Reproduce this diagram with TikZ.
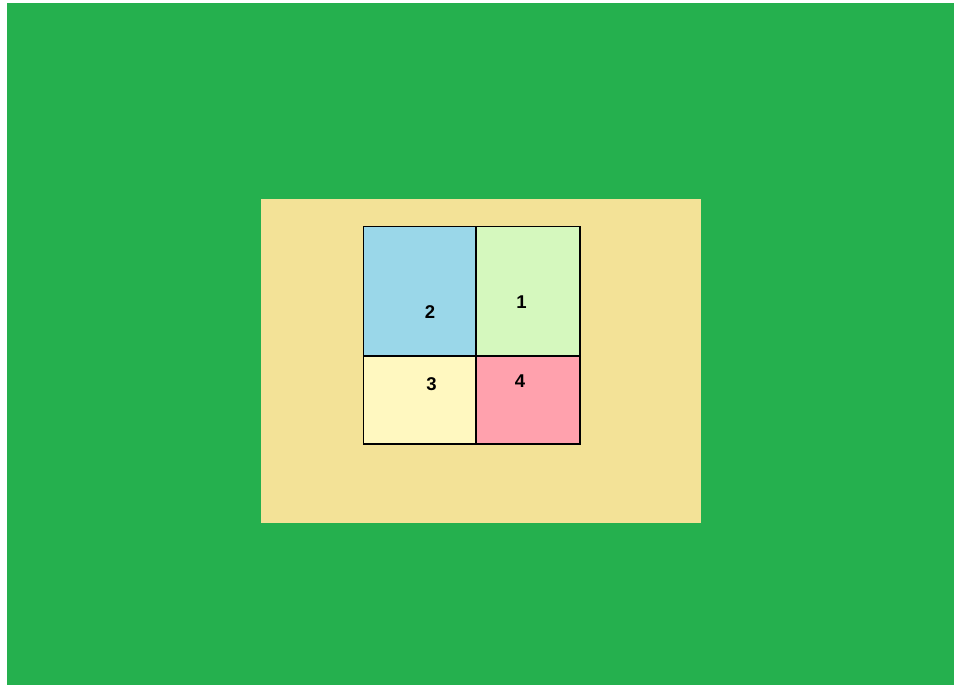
\documentclass[tikz,border=0pt]{standalone}
\usepackage{fontspec}
\setmainfont{Liberation Sans}
\definecolor{grass}{HTML}{25B04E}
\definecolor{tan}{HTML}{F3E297}
\definecolor{cblue}{HTML}{9AD7E9}
\definecolor{cgreen}{HTML}{D5F8BE}
\definecolor{cyellow}{HTML}{FFF8C0}
\definecolor{cred}{HTML}{FFA1AD}
\tikzset{
  cell/.style={draw=black, line width=1.8pt},
  num/.style={font=\fontsize{18.5}{18.5}\selectfont\bfseries, text=black, inner sep=0pt}
}
\begin{document}
\begin{tikzpicture}[x=1pt,y=-1pt]
\useasboundingbox (0,0) rectangle (954,685);
\fill[white] (0,0) rectangle (954,685);
\fill[grass] (7,3) rectangle (954,685);
\fill[tan] (261,199) rectangle (701,523);
\filldraw[cell, fill=cblue] (363.5,226.5) rectangle (475.7,356.3);
\filldraw[cell, fill=cgreen] (475.7,226.5) rectangle (579.7,356.3);
\filldraw[cell, fill=cyellow] (363.5,356.3) rectangle (475.7,444.3);
\filldraw[cell, fill=cred] (475.7,356.3) rectangle (579.7,444.3);
\node[num] (n2) at (430,312) {2};
\node[num] (n1) at (521.5,302) {1};
\node[num] (n3) at (431.5,384) {3};
\node[num] (n4) at (520,381) {4};
\end{tikzpicture}
\end{document}
